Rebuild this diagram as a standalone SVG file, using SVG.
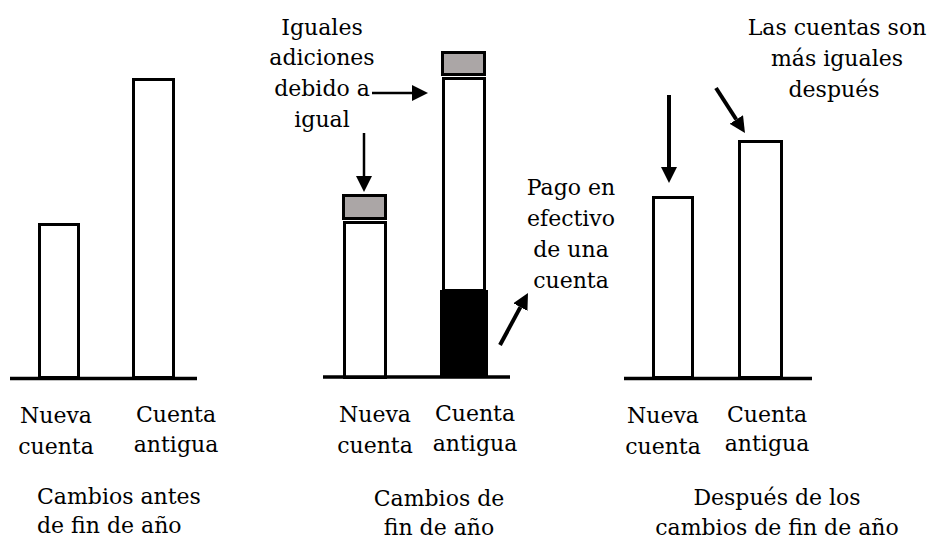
<svg xmlns="http://www.w3.org/2000/svg" width="930" height="539" viewBox="0 0 930 539">
<style>
text{font-family:"DejaVu Serif","Liberation Serif",serif;font-size:22px;fill:#000}
.m{text-anchor:middle}
.bar{fill:#fff;stroke:#000;stroke-width:3}
.cap{fill:#ABA6A6;stroke:#000;stroke-width:3}
.base{stroke:#000;stroke-width:3.5}
.arr{stroke:#000;stroke-width:4;fill:none;marker-end:url(#ah)}
.thin{stroke-width:2.5}
</style>
<defs>
<marker id="ah" markerUnits="userSpaceOnUse" markerWidth="16" markerHeight="16" refX="0" refY="8" orient="auto" viewBox="0 0 16 16">
<path d="M0,0 L16,8 L0,16 z" fill="#000"/>
</marker>
</defs>
<rect width="930" height="539" fill="#fff"/>

<g id="panel1">
<rect class="bar" x="39.5" y="224.5" width="39" height="153"/>
<rect class="bar" x="133.5" y="79.5" width="40" height="298"/>
<line class="base" x1="10" y1="378.5" x2="197" y2="378.5"/>
<text class="m" x="56" y="423">Nueva</text>
<text class="m" x="56" y="454">cuenta</text>
<text class="m" x="176" y="422">Cuenta</text>
<text class="m" x="176" y="452">antigua</text>
<text x="37" y="504">Cambios antes</text>
<text x="37" y="533">de fin de año</text>
</g>

<g id="panel2">
<rect class="bar" x="344.5" y="222.5" width="41" height="155"/>
<rect class="cap" x="343.5" y="195.5" width="42" height="23"/>
<rect class="bar" x="443.5" y="78.5" width="41" height="212"/>
<rect x="440" y="290" width="48" height="87" fill="#000"/>
<rect class="cap" x="442.5" y="52.5" width="42" height="22"/>
<line class="base" x1="323" y1="377" x2="510" y2="377"/>
<text class="m" x="322" y="35">Iguales</text>
<text class="m" x="322" y="65">adiciones</text>
<text class="m" x="322" y="96">debido a</text>
<text class="m" x="322" y="127">igual</text>
<text class="m" x="571" y="195">Pago en</text>
<text class="m" x="571" y="226">efectivo</text>
<text class="m" x="571" y="257">de una</text>
<text class="m" x="571" y="288">cuenta</text>
<text class="m" x="375" y="422">Nueva</text>
<text class="m" x="375" y="453">cuenta</text>
<text class="m" x="475" y="421">Cuenta</text>
<text class="m" x="475" y="451">antigua</text>
<text class="m" x="439" y="506">Cambios de</text>
<text class="m" x="439" y="535">fin de año</text>
</g>

<g id="panel3">
<rect class="bar" x="653.5" y="197.5" width="39" height="180"/>
<rect class="bar" x="739.5" y="141.5" width="42" height="236"/>
<line class="base" x1="624" y1="378.5" x2="812" y2="378.5"/>
<text class="m" x="837" y="35">Las cuentas son</text>
<text class="m" x="837" y="66">más iguales</text>
<text class="m" x="834" y="97">después</text>
<text class="m" x="663" y="423">Nueva</text>
<text class="m" x="663" y="454">cuenta</text>
<text class="m" x="767" y="422">Cuenta</text>
<text class="m" x="767" y="451">antigua</text>
<text class="m" x="777" y="505">Después de los</text>
<text class="m" x="777" y="535">cambios de fin de año</text>
</g>

<g id="connectors">
<line class="arr thin" x1="372" y1="93" x2="412" y2="93"/>
<line class="arr thin" x1="364" y1="133" x2="364" y2="176"/>
<line class="arr" x1="500" y1="345" x2="520.4" y2="307.1"/>
<line class="arr" x1="669" y1="95" x2="669" y2="167"/>
<line class="arr" x1="716" y1="88" x2="736.3" y2="119.5"/>
</g>
</svg>
